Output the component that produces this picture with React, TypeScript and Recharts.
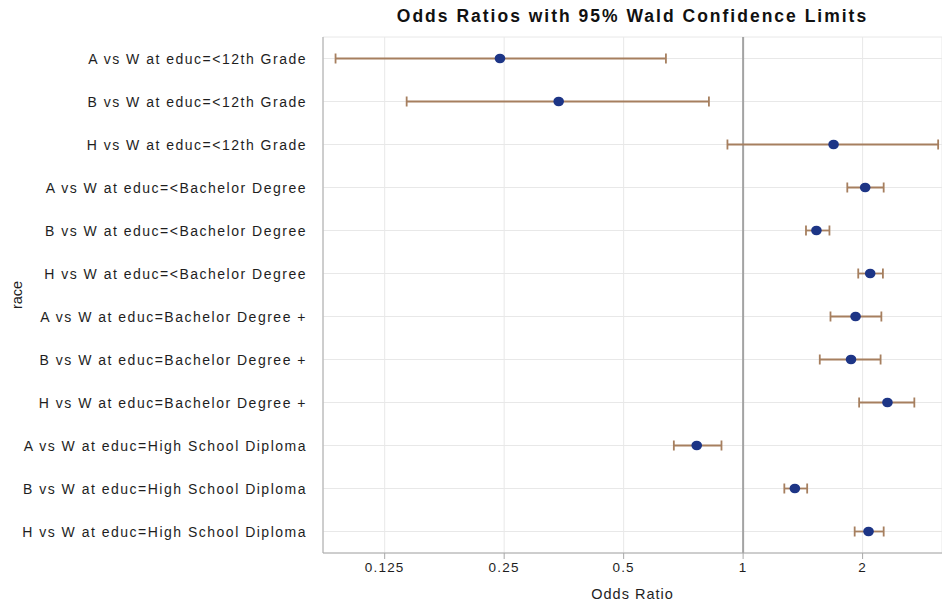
import React from 'react';
import {
  ScatterChart,
  Scatter,
  XAxis,
  YAxis,
  CartesianGrid,
  ReferenceLine,
  ErrorBar,
} from 'recharts';

// comparisons, top to bottom
const categories = [
  'A vs W at educ=<12th Grade',
  'B vs W at educ=<12th Grade',
  'H vs W at educ=<12th Grade',
  'A vs W at educ=<Bachelor Degree',
  'B vs W at educ=<Bachelor Degree',
  'H vs W at educ=<Bachelor Degree',
  'A vs W at educ=Bachelor Degree +',
  'B vs W at educ=Bachelor Degree +',
  'H vs W at educ=Bachelor Degree +',
  'A vs W at educ=High School Diploma',
  'B vs W at educ=High School Diploma',
  'H vs W at educ=High School Diploma',
];

const oddsRatio = [0.244, 0.343, 1.69, 2.03, 1.53, 2.09, 1.92, 1.87, 2.31, 0.764, 1.35, 2.07];
const lowerCL = [0.094, 0.142, 0.913, 1.83, 1.44, 1.95, 1.66, 1.56, 1.96, 0.669, 1.27, 1.91];
const upperCL = [0.639, 0.82, 3.1, 2.26, 1.65, 2.25, 2.23, 2.22, 2.7, 0.882, 1.45, 2.26];

const xTicks = [0.125, 0.25, 0.5, 1, 2];
const xDomain = [0.0874, 3.17];

const data = categories.map((name, i) => ({
  name,
  or: oddsRatio[i],
  err: [oddsRatio[i] - lowerCL[i], upperCL[i] - oddsRatio[i]],
}));

const FONT = '"Liberation Sans", Arial, sans-serif';

const YTick = (props: any) => {
  const { x, y, payload } = props;
  return (
    <text
      x={x}
      y={y}
      dy={5}
      textAnchor="end"
      fontSize={14}
      fontFamily={FONT}
      letterSpacing={1.5}
      fill="#1e1e1e"
    >
      {payload.value}
    </text>
  );
};

const Dot = (props: any) => {
  const { cx, cy } = props;
  return <ellipse cx={cx} cy={cy} rx={5.3} ry={4.8} fill="#1d3586" />;
};

const App = () => {
  return (
    <div style={{ position: 'absolute', left: 0, top: 0, width: 942, height: 605, background: '#fff' }}>
      <div
        style={{
          position: 'absolute',
          left: 323,
          top: 6,
          width: 619,
          textAlign: 'center',
          fontFamily: FONT,
          fontWeight: 'bold',
          fontSize: 17.5,
          letterSpacing: 2,
          color: '#111',
        }}
      >
        Odds Ratios with 95% Wald Confidence Limits
      </div>
      <ScatterChart width={942} height={605} margin={{ top: 37, right: 0, bottom: 0, left: 0 }}>
        <CartesianGrid xAxisId="main" stroke="#e8e8e8" strokeWidth={1} />
        <XAxis
          xAxisId="main"
          type="number"
          dataKey="or"
          scale="log"
          domain={xDomain}
          allowDataOverflow
          ticks={xTicks}
          height={52}
          tickSize={6}
          tickMargin={3}
          stroke="#a8a8a8"
          tick={{ fontSize: 13.5, fontFamily: FONT, fill: '#1e1e1e', letterSpacing: 1.2 }}
          label={{
            value: 'Odds Ratio',
            position: 'insideBottom',
            offset: 6,
            fontSize: 14.5,
            fontFamily: FONT,
            fill: '#1e1e1e',
            letterSpacing: 1,
          }}
        />
        <XAxis
          xAxisId="top"
          orientation="top"
          type="number"
          scale="log"
          domain={xDomain}
          allowDataOverflow
          height={0}
          tick={false}
          tickLine={false}
          stroke="#b5b5b5"
        />
        <YAxis
          type="category"
          dataKey="name"
          allowDuplicatedCategory={false}
          width={323}
          reversed
          tickLine={false}
          tickMargin={10}
          stroke="#a8a8a8"
          tick={<YTick />}
          interval={0}
          label={{
            value: 'race',
            content: (p: any) => {
              const vb = p.viewBox || {};
              const cx = (vb.x || 0) + 17;
              const cy = (vb.y || 0) + (vb.height || 0) / 2;
              return (
                <text
                  x={cx}
                  y={cy}
                  transform={`rotate(-90 ${cx} ${cy})`}
                  textAnchor="middle"
                  dominantBaseline="central"
                  fontSize={14.5}
                  fontFamily={FONT}
                  fill="#1e1e1e"
                >
                  race
                </text>
              );
            },
          }}
        />
        <ReferenceLine xAxisId="main" x={1} stroke="#a3a3a3" strokeWidth={2} />
        <Scatter xAxisId="main" data={data} shape={<Dot />} isAnimationActive={false}>
          <ErrorBar dataKey="err" direction="x" width={5} stroke="#a67f5f" strokeWidth={1.8} />
        </Scatter>
      </ScatterChart>
    </div>
  );
};

export default App;
